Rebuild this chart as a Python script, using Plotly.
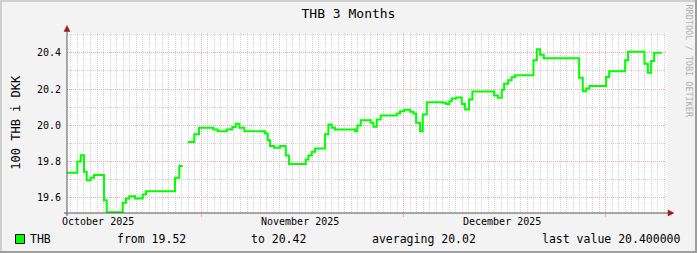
import plotly.graph_objects as go

# ---- data (days since start of window, THB rate in DKK per 100 THB) ----
days = [0, 1.58, 2.10, 2.61, 3.02, 3.63, 4.14, 5.67, 6.09, 8.54,
        9.05, 9.55, 10.43, 11.61, 12.12, 16.56, 17.22, 17.75, 18.0, 18.51,
        19.52, 20.24, 22.44, 23.11, 24.49, 25.35, 25.87, 26.43, 27.19, 30.37,
        30.78, 31.13, 31.75, 32.67, 33.54, 34.05, 36.61, 37.01, 37.53, 38.04,
        39.57, 40.08, 40.60, 41.10, 44.17, 44.52, 45.04, 46.58, 46.98, 47.50,
        48.11, 50.57, 51.07, 51.69, 52.61, 53.11, 53.53, 54.14, 54.55, 55.17,
        57.62, 58.13, 58.63, 59.00, 59.66, 60.53, 61.04, 61.65, 62.16, 65.49,
        66.06, 66.67, 67.02, 67.64, 68.17, 68.71, 71.52, 72.04, 72.54, 73.11,
        78.53, 79.09, 79.60, 80.11, 82.67, 83.13, 85.58, 86.04, 88.54, 89.06,
        89.57, 90.03, 91.21]
values = [19.738, 19.80, 19.835, 19.743, 19.697, 19.71, 19.725, 19.587, 19.52, 19.572,
          19.596, 19.609, 19.596, 19.618, 19.636, 19.71, 19.775, 19.775, None, 19.907,
          19.95, 19.986, 19.977, 19.967, 19.977, 19.99, 20.008, 19.986, 19.967, 19.955,
          19.918, 19.885, 19.876, 19.885, 19.833, 19.787, 19.811, 19.833, 19.854, 19.872,
          19.95, 20.004, 19.986, 19.977, 19.967, 19.999, 20.028, 20.014, 19.992, 20.032,
          20.054, 20.065, 20.078, 20.085, 20.074, 20.065, 20.014, 19.967, 20.06, 20.127,
          20.124, 20.118, 20.133, 20.148, 20.153, 20.118, 20.087, 20.142, 20.186, 20.164,
          20.152, 20.196, 20.229, 20.249, 20.265, 20.276, 20.359, 20.42, 20.389, 20.37,
          20.262, 20.188, 20.203, 20.216, 20.266, 20.298, 20.359, 20.405, 20.339, 20.29,
          20.354, 20.40, 20.40]

month_label_pos = [4.7, 35.7, 66.7]
month_labels = ["October 2025", "November 2025", "December 2025"]

x_range = [0, 92]
y_range = [19.516, 20.509]

series_name = "THB"
stat_min, stat_max, stat_avg, stat_last = 19.52, 20.42, 20.02, 20.40

FONT = "DejaVu Sans Mono"
GREEN = "#00ff00"
MGRID = "#f2a8a8"
GRID = "#d0d0d0"
AXIS = "#555555"
ARROW = "#9a1f1f"

fig = go.Figure()
fig.add_trace(go.Scatter(
    x=days, y=values, mode="lines", line=dict(color=GREEN, width=2, shape="hv"),
    connectgaps=False, hoverinfo="skip", showlegend=False))

fig.update_layout(
    width=697, height=253,
    margin=dict(l=67, r=30, t=33, b=40),
    paper_bgcolor="#f3f3f3", plot_bgcolor="#ffffff",
    font=dict(family=FONT, size=10, color="#000000"),
    showlegend=False,
    title=dict(text="THB 3 Months", x=0.5, xref="container", xanchor="center",
               y=1 - 13 / 253, yref="container", yanchor="middle",
               font=dict(family=FONT, size=13, color="#000000")),
    xaxis=dict(range=x_range, tickmode="linear", tick0=20.6, dtick=31,
               showticklabels=False, showgrid=True, gridcolor=MGRID, griddash="1px,1px",
               gridwidth=1, ticks="outside", ticklen=3, tickcolor=MGRID,
               zeroline=False, showline=False, fixedrange=True,
               minor=dict(tickmode="linear", tick0=0.6, dtick=1, showgrid=True,
                          gridcolor=GRID, griddash="1px,1px", gridwidth=1, ticks="")),
    yaxis=dict(range=y_range, tickmode="linear", tick0=19.6, dtick=0.2, tickformat=".1f",
               showgrid=True, gridcolor=MGRID, griddash="1px,1px", gridwidth=1,
               zeroline=False, showline=False, ticks="", ticklabelstandoff=5,
               tickfont=dict(family=FONT, size=10, color="#000000"),
               minor=dict(tickmode="linear", tick0=19.5, dtick=0.1, showgrid=True,
                          gridcolor=GRID, griddash="1px,1px", gridwidth=1, ticks="")),
)

W, H = 600.0, 180.0
def px(xp):
    return (xp - 67) / W
def py(yp):
    return (213 - yp) / H

shapes = []
# frame of the image
shapes.append(dict(type="rect", xref="paper", yref="paper", x0=px(0), x1=px(697), y0=py(0), y1=py(2),
                   fillcolor="#cfcfcf", line=dict(width=0), layer="above"))
shapes.append(dict(type="rect", xref="paper", yref="paper", x0=px(0), x1=px(2), y0=py(0), y1=py(253),
                   fillcolor="#cfcfcf", line=dict(width=0), layer="above"))
shapes.append(dict(type="rect", xref="paper", yref="paper", x0=px(0), x1=px(697), y0=py(251), y1=py(253),
                   fillcolor="#9e9e9e", line=dict(width=0), layer="above"))
shapes.append(dict(type="rect", xref="paper", yref="paper", x0=px(695), x1=px(697), y0=py(0), y1=py(253),
                   fillcolor="#9e9e9e", line=dict(width=0), layer="above"))
# axes
shapes.append(dict(type="line", xref="paper", yref="paper", x0=0, x1=0, y0=py(216), y1=py(29),
                   line=dict(color=AXIS, width=1), layer="above"))
shapes.append(dict(type="line", xref="paper", yref="paper", x0=px(64), x1=px(669), y0=0, y1=0,
                   line=dict(color=AXIS, width=1), layer="above"))
shapes.append(dict(type="path", xref="paper", yref="paper",
                   path=f"M {px(64.0)} {py(31.5)} L {px(70.0)} {py(31.5)} L 0 {py(25.5)} Z",
                   fillcolor=ARROW, line=dict(color=ARROW, width=0.5), layer="above"))
shapes.append(dict(type="path", xref="paper", yref="paper",
                   path=f"M {px(668)} {py(210)} L {px(668)} {py(216)} L {px(674)} {py(213)} Z",
                   fillcolor=ARROW, line=dict(color=ARROW, width=0.5), layer="above"))
# legend colour box
shapes.append(dict(type="rect", xref="paper", yref="paper", x0=px(15.5), x1=px(24.5),
                   y0=py(243.5), y1=py(234.5), fillcolor=GREEN, line=dict(color="#000000", width=1),
                   layer="above"))
fig.update_layout(shapes=shapes)

LEG = dict(family=FONT, size=11.5, color="#000000")
ann = []
# month labels on the time axis
for pos, lab in zip(month_label_pos, month_labels):
    ann.append(dict(text=lab, xref="x", yref="paper", x=pos, y=py(221),
                    showarrow=False, xanchor="center", yanchor="middle",
                    font=dict(family=FONT, size=10, color="#000000")))
ann.append(dict(text="100 THB i DKK", xref="paper", yref="paper", x=px(16), y=py(121.7),
                textangle=-90, showarrow=False, xanchor="center", yanchor="middle",
                font=dict(family=FONT, size=12, color="#000000")))
ann.append(dict(text="RRDTOOL / TOBI OETIKER", xref="paper", yref="paper", x=px(688.5), y=py(61),
                textangle=90, showarrow=False, xanchor="center", yanchor="middle",
                font=dict(family=FONT, size=8.5, color="#b0b0b0")))
for xpos, txt in [(28, series_name),
                  (114.7, f"from {stat_min:.2f}"),
                  (248.7, f"to {stat_max:.2f}"),
                  (369.7, f"averaging {stat_avg:.2f}"),
                  (539.7, f"last value {stat_last:.6f}")]:
    ann.append(dict(text=txt, xref="paper", yref="paper", x=px(xpos), y=py(239),
                    showarrow=False, xanchor="left", yanchor="middle", font=LEG))
fig.update_layout(annotations=ann)

fig.write_html("out.html")
